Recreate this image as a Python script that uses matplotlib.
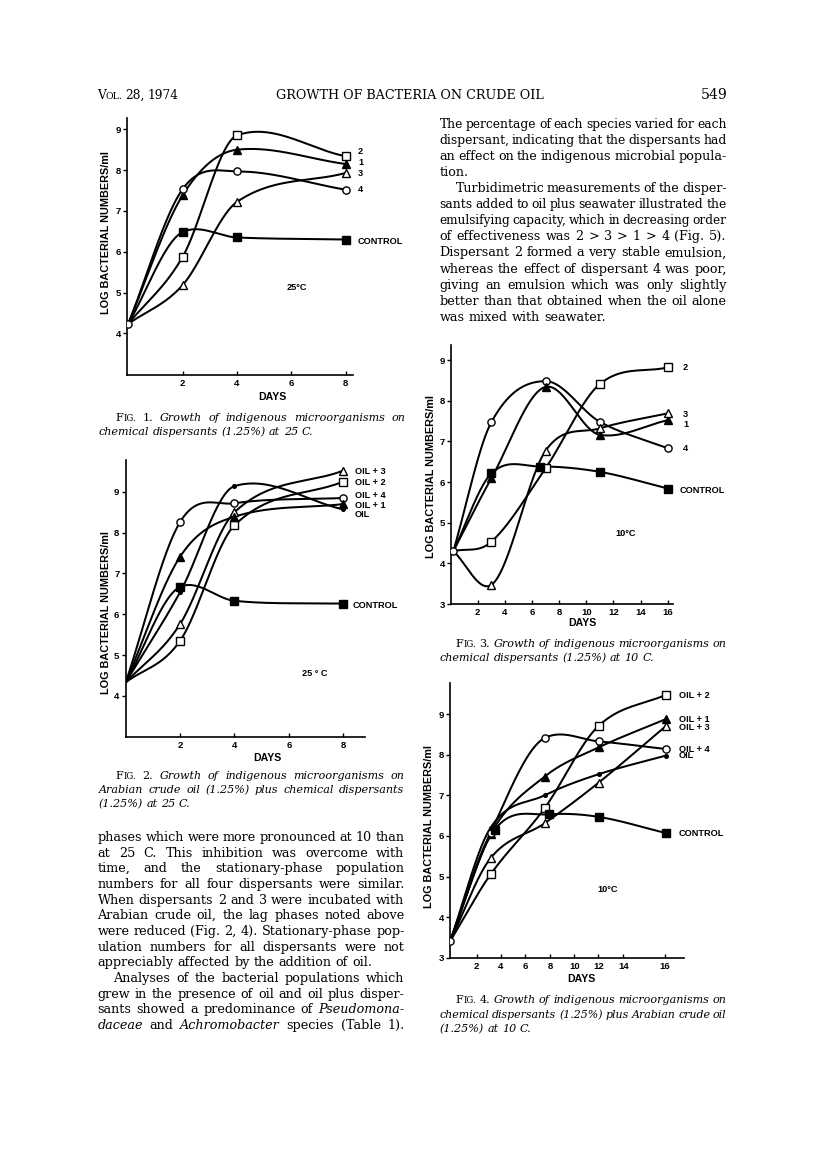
import matplotlib
matplotlib.use('Agg')
import matplotlib.pyplot as plt
import numpy as np

# ---------------- data ----------------
# Fig. 1 : dispersants at 25 C
f1_days = [0, 2, 4, 8]
f1_d2 = [4.23, 5.87, 8.85, 8.34]
f1_d1 = [4.23, 7.38, 8.50, 8.15]
f1_d3 = [4.23, 5.18, 7.22, 7.93]
f1_d4 = [4.23, 7.53, 7.97, 7.52]
f1_ctrl = [4.23, 6.48, 6.35, 6.30]

# Fig. 2 : oil + dispersants at 25 C
f2_days = [0, 2, 4, 8]
f2_oil3 = [4.33, 5.76, 8.50, 9.52]
f2_oil2 = [4.33, 5.35, 8.18, 9.25]
f2_oil4 = [4.33, 8.26, 8.72, 8.85]
f2_oil1 = [4.33, 7.41, 8.39, 8.70]
f2_oil = [4.33, 6.54, 9.14, 8.57]
f2_ctrl = [4.33, 6.67, 6.33, 6.26]

# Fig. 3 : dispersants at 10 C
f3_days = [0.2, 3, 7, 11, 16]
f3_d2 = [4.3, 4.53, 6.34, 8.41, 8.82]
f3_d4 = [4.3, 7.47, 8.48, 7.48, 6.83]
f3_d1 = [4.3, 6.09, 8.34, 7.16, 7.52]
f3_d3 = [4.3, 3.47, 6.77, 7.32, 7.69]
f3_ctrl_days = [0.2, 3, 6.6, 11, 16]
f3_ctrl = [4.3, 6.21, 6.38, 6.25, 5.84]

# Fig. 4 : dispersants + oil at 10 C
f4_days = [0, 3, 7, 11, 16]
f4_oil2 = [3.4, 5.05, 6.68, 8.71, 9.48]
f4_oil1 = [3.4, 6.05, 7.46, 8.18, 8.88]
f4_oil3 = [3.4, 5.45, 6.31, 7.31, 8.71]
f4_oil4 = [3.4, 6.07, 8.41, 8.33, 8.14]
f4_oil = [3.4, 6.20, 7.00, 7.52, 7.98]
f4_ctrl_days = [0, 3.3, 7.3, 11, 16]
f4_ctrl = [3.4, 6.15, 6.53, 6.47, 6.07]

f12_xticks = [2, 4, 6, 8]
f12_yticks = [4, 5, 6, 7, 8, 9]
f34_xticks = [2, 4, 6, 8, 10, 12, 14, 16]
f34_yticks = [3, 4, 5, 6, 7, 8, 9]
# positions (in days) where the tick labels of Fig. 4 are printed
f4_xtick_pos = [1.98, 3.76, 5.56, 7.41, 9.21, 10.99, 12.84, 15.93]

# ---------------- text ----------------
header_left = ["^VOL.", "28,", "1974"]
header_mid = "GROWTH OF BACTERIA ON CRUDE OIL"
header_right = "549"

right_body = [
    ("The percentage of each species varied for each", 'j'),
    ("dispersant, indicating that the dispersants had", 'j'),
    ("an effect on the indigenous microbial popula-", 'j'),
    ("tion.", 'l'),
    ("Turbidimetric measurements of the disper-", 'ji'),
    ("sants added to oil plus seawater illustrated the", 'j'),
    ("emulsifying capacity, which in decreasing order", 'j'),
    ("of effectiveness was 2 > 3 > 1 > 4 (Fig. 5).", 'j'),
    ("Dispersant 2 formed a very stable emulsion,", 'j'),
    ("whereas the effect of dispersant 4 was poor,", 'j'),
    ("giving an emulsion which was only slightly", 'j'),
    ("better than that obtained when the oil alone", 'j'),
    ("was mixed with seawater.", 'l'),
]
left_body = [
    ("phases which were more pronounced at 10 than", 'j'),
    ("at 25 C. This inhibition was overcome with", 'j'),
    ("time, and the stationary-phase population", 'j'),
    ("numbers for all four dispersants were similar.", 'j'),
    ("When dispersants 2 and 3 were incubated with", 'j'),
    ("Arabian crude oil, the lag phases noted above", 'j'),
    ("were reduced (Fig. 2, 4). Stationary-phase pop-", 'j'),
    ("ulation numbers for all dispersants were not", 'j'),
    ("appreciably affected by the addition of oil.", 'l'),
    ("Analyses of the bacterial populations which", 'ji'),
    ("grew in the presence of oil and oil plus disper-", 'j'),
    ("sants showed a predominance of _Pseudomona-", 'j'),
    ("_daceae and _Achromobacter species (Table 1).", 'j'),
]
cap1 = [("^FIG. =1. Growth of indigenous microorganisms on", 'ji'),
        ("chemical dispersants (1.25%) at 25 C.", 'l')]
cap2 = [("^FIG. =2. Growth of indigenous microorganisms on", 'ji'),
        ("Arabian crude oil (1.25%) plus chemical dispersants", 'j'),
        ("(1.25%) at 25 C.", 'l')]
cap3 = [("^FIG. =3. Growth of indigenous microorganisms on", 'ji'),
        ("chemical dispersants (1.25%) at 10 C.", 'l')]
cap4 = [("^FIG. =4. Growth of indigenous microorganisms on", 'ji'),
        ("chemical dispersants (1.25%) plus Arabian crude oil", 'j'),
        ("(1.25%) at 10 C.", 'l')]

# ---------------- page setup ----------------
W, H = 816, 1173
fig = plt.figure(figsize=(W / 100, H / 100), dpi=100)
fig.patch.set_facecolor('white')
renderer = fig.canvas.get_renderer()
SERIF = 'DejaVu Serif'
SANS = 'Liberation Sans'
PT = 100 / 72.0
SPACE = 0.318
MINGAP = 0.22


def fx(px):
    return px / W


def fy(py):
    return 1 - py / H


def measure(s, size, style='normal', family=SERIF):
    t = fig.text(0, 0, s, fontsize=size, fontstyle=style, family=family)
    w = t.get_window_extent(renderer).width
    t.remove()
    return w


def parse(word, default):
    if word.startswith('_'):
        return word[1:], 'i'
    if word.startswith('='):
        return word[1:], 'r'
    if word.startswith('^'):
        return word[1:], 'sc'
    return word, default


def tok_width(txt, style, size):
    if style == 'sc':
        return measure(txt[0], size) + measure(txt[1:], size * 0.78)
    return measure(txt, size, 'italic' if style == 'i' else 'normal')


def draw_tok(x, yb, txt, style, size):
    if style == 'sc':
        fig.text(fx(x), fy(yb), txt[0], fontsize=size, family=SERIF, va='baseline')
        x2 = x + measure(txt[0], size)
        fig.text(fx(x2), fy(yb), txt[1:], fontsize=size * 0.78, family=SERIF, va='baseline')
    else:
        fig.text(fx(x), fy(yb), txt, fontsize=size, family=SERIF, va='baseline',
                 fontstyle='italic' if style == 'i' else 'normal')


def natural_width(line, size, default):
    toks = [parse(w, default) for w in line.split(' ')]
    ws = [tok_width(t, s, size) for t, s in toks]
    return sum(ws) + SPACE * size * PT * (len(ws) - 1)


def draw_line(line, x0, x1, yc, size, default='r', justify=True):
    toks = [parse(w, default) for w in line.split(' ')]
    n = len(toks)
    ws = [tok_width(t, s, size) for t, s in toks]
    if justify and n > 1:
        need = sum(ws) + (n - 1) * MINGAP * size * PT
        if need > (x1 - x0):
            # squeeze this one line slightly so that it stays inside the column
            size = size * (x1 - x0) / need
            ws = [tok_width(t, s, size) for t, s in toks]
        gap = (x1 - x0 - sum(ws)) / (n - 1)
    else:
        gap = SPACE * size * PT
    yb = yc + 0.30 * size * PT
    x = x0
    for (t, s), w in zip(toks, ws):
        draw_tok(x, yb, t, s, size)
        x += w + gap


def fit_size(lines, x0, x1, indent, default, base=10.0):
    vals = []
    for txt, mode in lines:
        if mode.startswith('j'):
            avail = (x1 - x0) - (indent if mode == 'ji' else 0)
            w = natural_width(txt, base, default)
            vals.append(base * avail / w)
    return vals


def draw_block(lines, x0, x1, y0, dy, size, indent, default='r'):
    for k, (txt, mode) in enumerate(lines):
        xs = x0 + (indent if mode == 'ji' else 0)
        draw_line(txt, xs, x1, y0 + k * dy, size, default, justify=mode.startswith('j'))


LX0, LX1 = 97.5, 404.5
RX0, RX1 = 439.5, 726.5

# body text size
bvals = fit_size(left_body, LX0, LX1, 16, 'r') + fit_size(right_body, RX0, RX1, 16, 'r')
body_size = float(np.percentile(bvals, 40))
draw_block(right_body, RX0, RX1, 124.0, 16.08, body_size, 16)
draw_block(left_body, LX0, LX1, 837.0, 15.68, body_size, 16)

# caption size
cvals = (fit_size(cap1, LX0 + 1, LX1, 17, 'i') + fit_size(cap2, LX0 + 1, LX1, 17, 'i')
         + fit_size(cap3, RX0, RX1, 16, 'i') + fit_size(cap4, RX0, RX1, 16, 'i'))
cap_size = float(np.percentile(cvals, 40))
draw_block(cap1, LX0 + 1, LX1 + 1, 418.0, 14.0, cap_size, 17, 'i')
draw_block(cap2, LX0 + 1, LX1, 776.0, 14.0, cap_size, 17, 'i')
draw_block(cap3, RX0, RX1, 643.5, 14.5, cap_size, 16, 'i')
draw_block(cap4, RX0, RX1, 1000.0, 14.5, cap_size, 16, 'i')

# header
hs = 9.6 * 268 / measure(header_mid, 9.6)
draw_line(" ".join(header_left), 97, 178, 95, hs, 'r', justify=True)
fig.text(fx(410), fy(95 + 0.3 * hs * PT), header_mid, fontsize=hs, family=SERIF,
         ha='center', va='baseline')
fig.text(fx(727), fy(95 + 0.3 * hs * PT), header_right, fontsize=hs * 1.1, family=SERIF,
         ha='right', va='baseline')


# ---------------- charts ----------------
def smooth(x, y, n=400):
    x = np.asarray(x, float)
    y = np.asarray(y, float)
    s = np.diff(y) / np.diff(x)
    m = np.empty_like(y)
    m[0] = s[0]
    m[-1] = s[-1]
    m[1:-1] = (y[2:] - y[:-2]) / (x[2:] - x[:-2])
    for i in range(1, len(x) - 1):
        if s[i - 1] * s[i] < 0:
            m[i] *= 0.6
    xs = np.linspace(x[0], x[-1], n)
    i = np.clip(np.searchsorted(x, xs, side='right') - 1, 0, len(x) - 2)
    h = x[i + 1] - x[i]
    t = (xs - x[i]) / h
    h00 = 2 * t ** 3 - 3 * t ** 2 + 1
    h10 = t ** 3 - 2 * t ** 2 + t
    h01 = -2 * t ** 3 + 3 * t ** 2
    h11 = t ** 3 - t ** 2
    ys = h00 * y[i] + h10 * h * m[i] + h01 * y[i + 1] + h11 * h * m[i + 1]
    return xs, ys


MS = 5.2
STY = {
    'osq': dict(marker='s', mfc='white', ms=MS),
    'fsq': dict(marker='s', mfc='black', ms=MS),
    'otr': dict(marker='^', mfc='white', ms=MS),
    'ftr': dict(marker='^', mfc='black', ms=MS),
    'oci': dict(marker='o', mfc='white', ms=MS),
    'dot': dict(marker='o', mfc='black', ms=2.6),
}


def make_ax(l, r, t, b, xlim, ylim):
    ax = fig.add_axes([fx(l), fy(b), (r - l) / W, (b - t) / H])
    ax.set_xlim(*xlim)
    ax.set_ylim(*ylim)
    for sp in ['top', 'right']:
        ax.spines[sp].set_visible(False)
    for sp in ['left', 'bottom']:
        ax.spines[sp].set_linewidth(1.2)
    ax.tick_params(axis='y', direction='out', length=3, width=1.0, pad=1.5,
                   labelsize=6.8)
    ax.tick_params(axis='x', direction='in', length=3, width=1.0, pad=3,
                   labelsize=6.8)
    ax.patch.set_alpha(0)
    return ax


def series(ax, x, y, sty):
    xs, ys = smooth(x, y)
    ax.plot(xs, ys, color='black', lw=1.45, solid_capstyle='round', zorder=2)
    st = STY[sty]
    ax.plot(x[1:], y[1:], ls='none', marker=st['marker'], mfc=st['mfc'],
            mec='black', mew=1.0, ms=st['ms'], zorder=3)


def sans(px, py, s, size=6.6, ha='left', **kw):
    fig.text(fx(px), fy(py), s, fontsize=size, family=SANS, fontweight='bold',
             ha=ha, va='center', **kw)


def style_ticks(ax):
    for lab in ax.get_xticklabels() + ax.get_yticklabels():
        lab.set_fontfamily(SANS)
        lab.set_fontweight('bold')


def start_marker(ax, x, y):
    ax.plot([x], [y], ls='none', marker='o', mfc='white', mec='black',
            mew=1.0, ms=MS, zorder=4)


YL = "LOG BACTERIAL NUMBERS/ml"
YLS = 7.8

# Fig 1
ax1 = make_ax(127.3, 353.3, 118.3, 375, (-0.03, 8.28), (2.98, 9.27))
series(ax1, f1_days, f1_d2, 'osq')
series(ax1, f1_days, f1_d1, 'ftr')
series(ax1, f1_days, f1_d3, 'otr')
series(ax1, f1_days, f1_d4, 'oci')
series(ax1, f1_days, f1_ctrl, 'fsq')
start_marker(ax1, f1_days[0], f1_d4[0])
ax1.set_xticks(f12_xticks)
ax1.set_yticks(f12_yticks)
style_ticks(ax1)
for s, yy in [("2", 151.7), ("1", 162.7), ("3", 174.0), ("4", 190.0)]:
    sans(358, yy, s)
sans(358, 241.7, "CONTROL")
sans(287, 287, "25°C")
sans(258, 397, "DAYS", size=7.6)
sans(106, 233, YL, size=YLS, ha='center', rotation=90)

# Fig 2
ax2 = make_ax(125.7, 365, 460, 736.7, (0, 8.8), (3.0, 9.78))
series(ax2, f2_days, f2_oil3, 'otr')
series(ax2, f2_days, f2_oil2, 'osq')
series(ax2, f2_days, f2_oil4, 'oci')
series(ax2, f2_days, f2_oil1, 'ftr')
series(ax2, f2_days, f2_oil, 'dot')
series(ax2, f2_days, f2_ctrl, 'fsq')
ax2.set_xticks(f12_xticks)
ax2.set_yticks(f12_yticks)
style_ticks(ax2)
for s, yy in [("OIL + 3", 471.7), ("OIL + 2", 482.3), ("OIL + 4", 495.0),
              ("OIL + 1", 505.0), ("OIL", 514.3)]:
    sans(355, yy, s)
sans(353, 605, "CONTROL")
sans(302, 673, "25 ° C")
sans(253, 758, "DAYS", size=7.6)
sans(106, 613, YL, size=YLS, ha='center', rotation=90)

# Fig 3
ax3 = make_ax(451.3, 673.3, 345, 604, (0.05, 16.41), (3.0, 9.37))
series(ax3, f3_days, f3_d2, 'osq')
series(ax3, f3_days, f3_d4, 'oci')
series(ax3, f3_days, f3_d1, 'ftr')
series(ax3, f3_days, f3_d3, 'otr')
series(ax3, f3_ctrl_days, f3_ctrl, 'fsq')
start_marker(ax3, f3_days[0], f3_d4[0])
ax3.set_xticks(f34_xticks)
ax3.set_yticks(f34_yticks)
style_ticks(ax3)
for s, yy in [("2", 367.3), ("3", 414.0), ("1", 424.0), ("4", 448.3)]:
    sans(683, yy, s)
sans(680, 490.7, "CONTROL")
sans(615, 533, "10°C")
sans(568, 623, "DAYS", size=7.6)
sans(431, 477, YL, size=YLS, ha='center', rotation=90)

# Fig 4
ax4 = make_ax(450, 684, 683.3, 957.7, (0, 17.33), (3.0, 9.76))
series(ax4, f4_days, f4_oil2, 'osq')
series(ax4, f4_days, f4_oil1, 'ftr')
series(ax4, f4_days, f4_oil3, 'otr')
series(ax4, f4_days, f4_oil4, 'oci')
series(ax4, f4_days, f4_oil, 'dot')
series(ax4, f4_ctrl_days, f4_ctrl, 'fsq')
start_marker(ax4, f4_days[0], f4_oil4[0])
ax4.set_xticks(f4_xtick_pos)
ax4.set_xticklabels([str(v) for v in f34_xticks])
ax4.set_yticks(f34_yticks)
style_ticks(ax4)
for s, yy in [("OIL + 2", 695.7), ("OIL + 1", 719.3), ("OIL + 3", 727.3),
              ("OIL + 4", 749.3), ("OIL", 756.0)]:
    sans(679, yy, s)
sans(679, 834, "CONTROL")
sans(597, 889, "10°C")
sans(567, 979, "DAYS", size=7.6)
sans(429, 827, YL, size=YLS, ha='center', rotation=90)

fig.savefig('out.png', dpi=100, facecolor='white')
